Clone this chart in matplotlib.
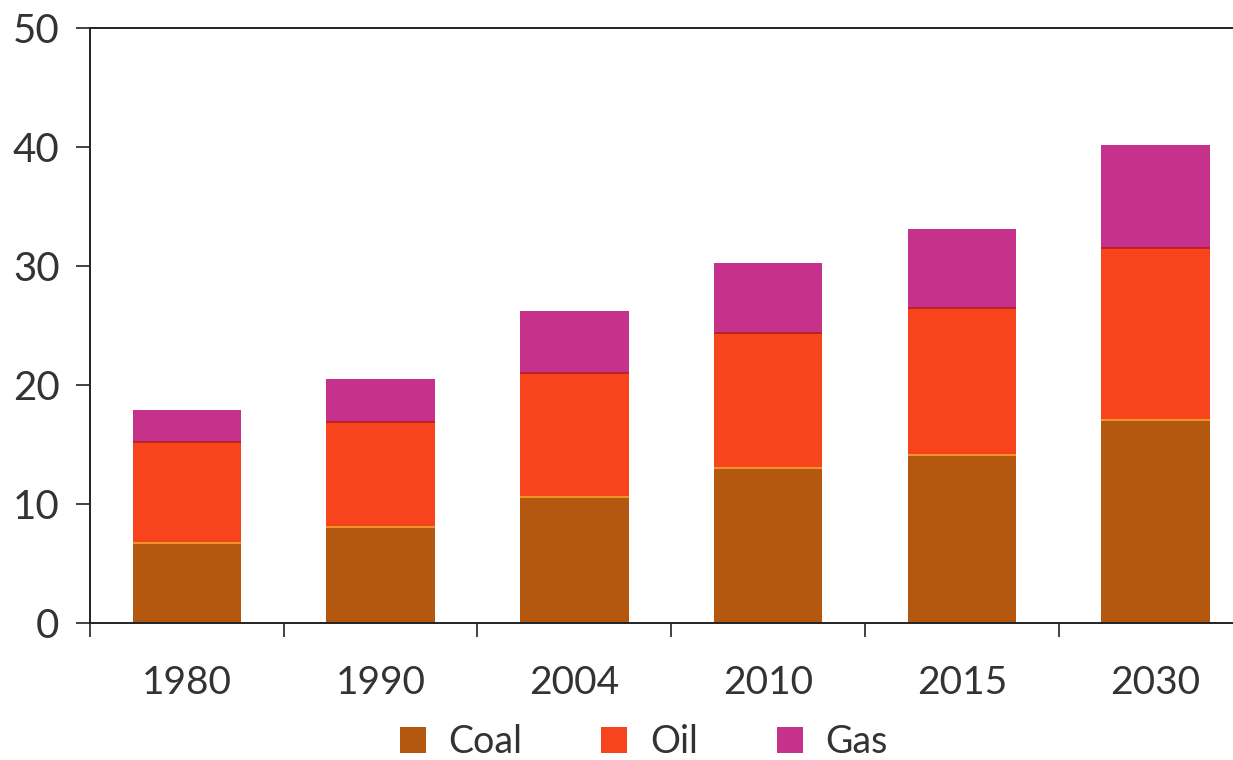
import matplotlib
matplotlib.use('Agg')
import matplotlib.pyplot as plt
from matplotlib.patches import Patch
import numpy as np

# data
years = ['1980', '1990', '2004', '2010', '2015', '2030']
coal = [6.7, 8.1, 10.6, 13.0, 14.1, 17.1]
oil = [8.5, 8.8, 10.4, 11.4, 12.4, 14.4]
gas = [2.7, 3.6, 5.2, 5.9, 6.6, 8.7]
series_names = ['Coal', 'Oil', 'Gas']

COLORS = {
    'coal': '#B3580E',
    'oil': '#F7441D',
    'gas': '#C6318C',
    'axis': '#222222',
    'text': '#333333',
}

FONT = 'Lato'

fig = plt.figure(figsize=(12.33, 7.6), dpi=100, facecolor='white')
ax = fig.add_axes([0.073, 0.180, 0.927, 0.783])

x = np.arange(len(years))
width = 0.56
coal_a = np.array(coal)
oil_a = np.array(oil)
gas_a = np.array(gas)

ax.bar(x, coal_a, width, color=COLORS['coal'], linewidth=0)
ax.bar(x, oil_a, width, bottom=coal_a, color=COLORS['oil'], linewidth=0)
ax.bar(x, gas_a, width, bottom=coal_a + oil_a, color=COLORS['gas'], linewidth=0)

# thin seams between segments like the printed chart
ax.hlines(coal_a, x - width / 2, x + width / 2, color='#F6A22A', linewidth=1.2)
ax.hlines(coal_a + oil_a, x - width / 2, x + width / 2, color='#B3201A', linewidth=1.2)

ax.set_xlim(-0.5, 5.4)
ax.set_ylim(0, 50)

for side in ['left', 'bottom', 'top']:
    ax.spines[side].set_color(COLORS['axis'])
    ax.spines[side].set_linewidth(1.4)
ax.spines['right'].set_visible(False)

ax.set_yticks([0, 10, 20, 30, 40, 50])
ax.set_yticklabels(['0', '10', '20', '30', '40', '50'],
                   fontsize=29, color=COLORS['text'], family=FONT)
ax.tick_params(axis='y', direction='out', length=10, width=1.2,
               color=COLORS['axis'], pad=12)

# category labels at centres, tick marks at the boundaries
ax.set_xticks(x)
ax.set_xticklabels(years, fontsize=28, color=COLORS['text'], family=FONT)
ax.tick_params(axis='x', which='major', length=0, pad=30)
ax.set_xticks(np.arange(-0.5, 5.0, 1.0), minor=True)
ax.tick_params(axis='x', which='minor', direction='out', length=10, width=1.2,
               color=COLORS['axis'])

handles = [Patch(facecolor=COLORS[k], edgecolor='none') for k in ['coal', 'oil', 'gas']]
fig.legend(handles, series_names, loc='center', bbox_to_anchor=(0.522, 0.024),
           ncol=3, frameon=False, handlelength=0.7, handleheight=0.7,
           handletextpad=0.6, columnspacing=2.1,
           prop={'family': FONT, 'size': 27},
           labelcolor=COLORS['text'])

fig.savefig('out.png', dpi=100, facecolor='white')
